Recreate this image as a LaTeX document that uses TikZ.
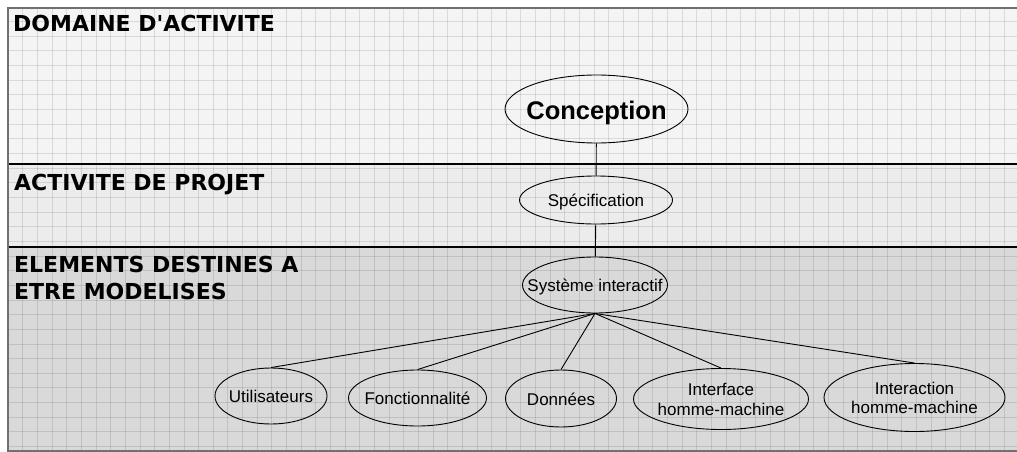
\documentclass[tikz,border=0pt]{standalone}
\usepackage{fontspec}
\setmainfont{Liberation Sans}
\newfontfamily\labelfont{DejaVu Sans}
\usetikzlibrary{shapes.geometric}

\definecolor{bandtop}{HTML}{F4F4F4}
\definecolor{bandmid}{HTML}{ECECEC}
\definecolor{bandlow}{HTML}{D9D9D9}
\definecolor{framegray}{HTML}{707070}

% text that does not widen its ellipse
\newcommand{\bubbletext}[1]{\makebox[0pt]{\raisebox{-0.42em}[0pt][0pt]{\begin{tabular}{@{}c@{}}#1\end{tabular}}}}

\tikzset{
  bubble/.style={draw, ellipse, inner sep=0pt, line width=0.9pt,
    font=\fontsize{17}{19.5}\selectfont},
  bandlabel/.style={anchor=north west, inner sep=0pt, align=left,
    font=\labelfont\bfseries\fontsize{22}{26.7}\selectfont},
  link/.style={line width=0.9pt}
}

\begin{document}
\begin{tikzpicture}[x=1pt, y=-1pt]
  \useasboundingbox (0,0) rectangle (1017,452);
  % bands
  \fill[bandtop] (8,8) rectangle (1017,164);
  \fill[bandmid] (8,164) rectangle (1017,247);
  \fill[bandlow] (8,247) rectangle (1017,451);
  % grid
  \foreach \x in {8,22.65,...,1017}
    \draw[black, opacity=0.11, line width=0.6pt] (\x,8) -- (\x,451);
  \foreach \y in {21.5,36.15,...,451}
    \draw[black, opacity=0.11, line width=0.6pt] (8,\y) -- (1017,\y);
  % separators and frame
  \draw[line width=1.3pt] (8,164) -- (1017,164);
  \draw[line width=1.3pt] (8,247) -- (1017,247);
  \draw[framegray, line width=2pt] (1017,8) -- (8,8) -- (8,451) -- (1017,451);

  % band titles
  \node[bandlabel] (domaine) at (13,15) {DOMAINE D'ACTIVITE};
  \node[bandlabel] (activite) at (14,174) {ACTIVITE DE PROJET};
  \node[bandlabel] (elements) at (14,256) {ELEMENTS DESTINES A\\ETRE MODELISES};

  % tree
  \node[bubble, minimum width=183pt, minimum height=68pt,
    font=\bfseries\fontsize{25.5}{28}\selectfont] (conception) at (596.5,109) {\bubbletext{Conception}};
  \node[bubble, minimum width=153pt, minimum height=48pt] (specification) at (596,200) {\bubbletext{Spécification}};
  \node[bubble, minimum width=145pt, minimum height=56pt] (systeme) at (595,285) {\bubbletext{Système interactif}};
  \node[bubble, minimum width=112pt, minimum height=56pt] (utilisateurs) at (271,396) {\bubbletext{Utilisateurs}};
  \node[bubble, minimum width=138pt, minimum height=56pt] (fonctionnalite) at (417.5,398) {\bubbletext{Fonctionnalité}};
  \node[bubble, minimum width=111pt, minimum height=57pt] (donnees) at (561,398.5) {\bubbletext{Données}};
  \node[bubble, minimum width=175pt, minimum height=61pt] (interface) at (721,399) {\bubbletext{Interface\\homme-machine}};
  \node[bubble, minimum width=181pt, minimum height=68pt] (interaction) at (914.5,397.5) {\bubbletext{Interaction\\homme-machine}};

  \draw[link] (conception) -- (specification);
  \draw[link] (specification) -- (systeme);
  \foreach \child in {utilisateurs,fonctionnalite,donnees,interface,interaction}
    \draw[link] (systeme.south) -- (\child.north);
\end{tikzpicture}
\end{document}
